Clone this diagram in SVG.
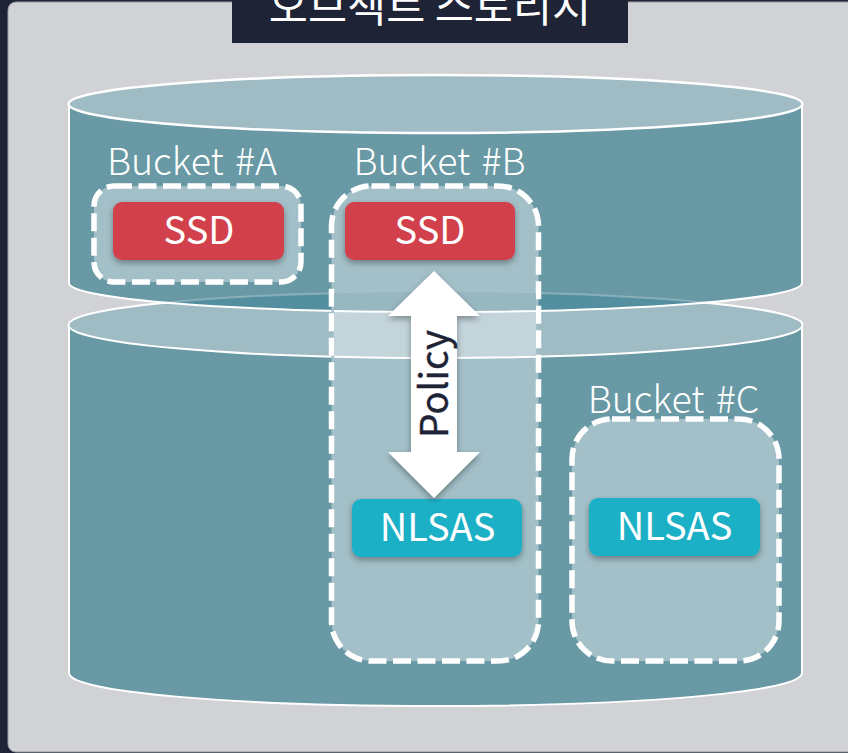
<svg xmlns="http://www.w3.org/2000/svg" width="848" height="753" viewBox="0 0 848 753">
<style>
.body{fill:#6899a4;stroke:#fff;stroke-width:2}
.lid{fill:#9fbcc4;stroke:#fff;stroke-width:2.5}
.bucket{fill:#a3c0c8;stroke:#fff;stroke-width:5.5;stroke-dasharray:18 6.5}
.ssd{fill:#d13f4b}
.nl{fill:#1bb0c6}
.t{font-family:"Noto Sans CJK KR",sans-serif;fill:#fff;text-anchor:middle}
.lbl{font-size:37.5px;font-weight:300;word-spacing:3px}
.tag{font-size:38px}
.h{font-family:"Noto Sans CJK KR",sans-serif;font-size:42.500px;fill:#fff;text-anchor:middle}
</style>
<defs>
<filter id="sh" x="-15%" y="-15%" width="130%" height="140%"><feDropShadow dx="0" dy="3" stdDeviation="3" flood-color="#000" flood-opacity=".35"/></filter>
<clipPath id="lidClip"><ellipse cx="435.500" cy="325" rx="367" ry="33"/></clipPath>
<clipPath id="topClip"><path d="M69 104V283C69 299 233 312 435.500 312S802 299 802 283V104Z"/></clipPath>
<clipPath id="bClip"><rect x="334" y="280" width="202" height="90"/></clipPath>
</defs>
<rect width="848" height="753" fill="#1e2436"/>
<rect x="8" y="2" width="848" height="750" rx="8" fill="#d1d2d5" stroke="#9a9b9e" stroke-width="1"/>
<g id="cylinder-lower">
<path class="body" d="M69 325V673C69 692 233 706 435.500 706S802 692 802 673V325Z"/>
<ellipse class="lid" cx="435.500" cy="325" rx="367" ry="33" style="stroke-width:2"/>
</g>
<g id="cylinder-upper">
<path d="M69 104V283C69 299 233 312 435.500 312S802 299 802 283V104Z" fill="#6899a4"/>
<g clip-path="url(#topClip)"><ellipse cx="435.500" cy="325" rx="367" ry="33" fill="#538f9f" stroke="#fff" stroke-opacity=".25" stroke-width="2"/></g>
<path d="M69 104V283C69 299 233 312 435.500 312S802 299 802 283V104" fill="none" stroke="#fff" stroke-width="2"/>
<ellipse class="lid" cx="435.500" cy="104" rx="367" ry="29"/>
</g>
<g id="bucket-a">
<rect class="bucket" x="94" y="186" width="207" height="96" rx="20"/>
<text class="t lbl" x="192" y="175">Bucket #A</text>
<rect class="ssd" x="113" y="202" width="171" height="58" rx="9" filter="url(#sh)"/>
<text class="t tag" x="199" y="243.500">SSD</text>
</g>
<g id="bucket-b">
<rect class="bucket" x="331.500" y="186" width="207" height="475" rx="40"/>
<g clip-path="url(#bClip)">
<g clip-path="url(#lidClip)"><path d="M69 283C69 299 233 312 435.500 312S802 299 802 283V370H69Z" fill="#c3d4db"/></g>
<g clip-path="url(#topClip)"><ellipse cx="435.500" cy="325" rx="367" ry="33" fill="#98b8c1"/></g>
<path d="M69 283C69 299 233 312 435.500 312S802 299 802 283" fill="none" stroke="#fff" stroke-width="2"/>
<path d="M68.500 325C68.500 343 233 358 435.500 358S802.500 343 802.500 325" fill="none" stroke="#fff" stroke-width="2"/>
</g>
<text class="t lbl" x="439.500" y="175">Bucket #B</text>
<rect class="ssd" x="345" y="202" width="170" height="58" rx="9" filter="url(#sh)"/>
<text class="t tag" x="430" y="243.500">SSD</text>
</g>
<g id="bucket-c">
<rect class="bucket" x="572" y="419" width="207" height="242" rx="40"/>
<text class="t lbl" x="673.500" y="413">Bucket #C</text>
<rect class="nl" x="589" y="498" width="171" height="58" rx="9" filter="url(#sh)"/>
<text class="t tag" x="674.500" y="540">NLSAS</text>
</g>
<g id="nlsas-b">
<rect class="nl" x="352" y="499" width="170" height="58" rx="9" filter="url(#sh)"/>
<text class="t tag" x="437.500" y="541">NLSAS</text>
</g>
<g id="connectors">
<path d="M434 271L480 316H457V452H480L434 498L388 452H411V316H388Z" fill="#fff" filter="url(#sh)"/>
<text transform="translate(448 384) rotate(-90)" font-family="Noto Sans CJK KR,sans-serif" font-size="38.500" fill="#1e2436" stroke="#1e2436" stroke-width=".4" text-anchor="middle">Policy</text>
</g>
<g id="title">
<rect x="232" y="-5" width="396" height="48" fill="#1e2436"/>
<text class="h" x="430" y="21.500">오브젝트 스토리지</text>
</g>
</svg>
